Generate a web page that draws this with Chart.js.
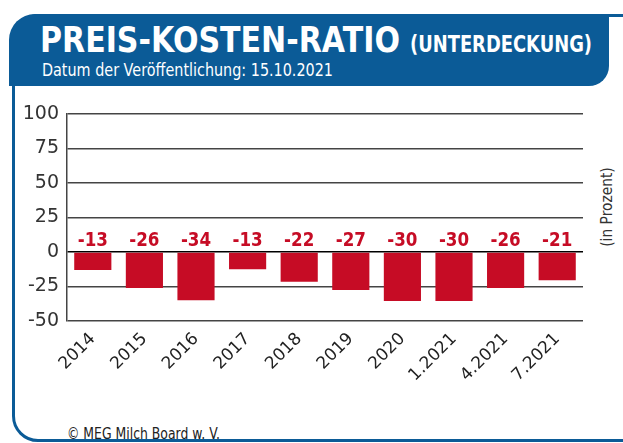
<!DOCTYPE html>
<html lang="de">
<head>
<meta charset="utf-8">
<script src="https://cdn.jsdelivr.net/npm/chart.js@4"></script>
<style>
  html, body { margin: 0; padding: 0; background: #fff; }
  body { width: 623px; height: 443px; position: relative; overflow: hidden;
         font-family: "DejaVu Sans", sans-serif; }
  #rahmen { position: absolute; left: 12px; top: 14px; width: 660px; height: 428px;
            border: 3px solid #0b5b97; border-radius: 26px; box-sizing: border-box; }
  #kopf { position: absolute; left: 9px; top: 14px; width: 600px; height: 72px;
          background: #0b5b97; border-radius: 26px 0 20px 0; }
  .txt { position: absolute; white-space: nowrap; transform-origin: 0 0; }
  #titel { left: 40px; top: 19px; color: #fff; font-weight: bold; font-size: 36px; }
  #zusatz { left: 410px; top: 31px; color: #fff; font-weight: bold; font-size: 23px; }
  #datum { left: 42px; top: 60px; color: #fff; font-size: 17px; }
  #einheit { position: absolute; left: 607px; top: 207px; color: #333; font-size: 15px;
             transform: translate(-50%, -50%) rotate(-90deg) scaleX(0.92); white-space: nowrap; }
  #quelle { left: 67px; top: 425px; color: #222; font-size: 15px; }
  canvas { position: absolute; left: 0; top: 0; }
</style>
</head>
<body>
<div id="rahmen"></div>
<div id="kopf"></div>
<div class="txt" id="titel" data-breite="360">PREIS-KOSTEN-RATIO</div>
<div class="txt" id="zusatz" data-breite="182">(UNTERDECKUNG)</div>
<div class="txt" id="datum" data-breite="291">Datum der Veröffentlichung: 15.10.2021</div>
<div id="einheit">(in Prozent)</div>
<div class="txt" id="quelle" data-breite="153">© MEG Milch Board w. V.</div>
<canvas id="grafico" width="623" height="443"></canvas>
<script>
const schrift = '"DejaVu Sans", sans-serif';

const kategorien = ["2014", "2015", "2016", "2017", "2018", "2019", "2020", "1.2021", "4.2021", "7.2021"];
// Balkenhöhen
const werte = [-13, -26, -35, -12.5, -21.5, -27.5, -35.5, -35.5, -26, -20.5];
// Beschriftungen über der Nulllinie
const beschriftung = ["-13", "-26", "-34", "-13", "-22", "-27", "-30", "-30", "-26", "-21"];
const yTicks = [100, 75, 50, 25, 0, -25, -50];

const rot = "#c60c25";

// Texte auf die Breite im Original stauchen (keine schmale Schrift installiert)
document.querySelectorAll(".txt[data-breite]").forEach(el => {
  const soll = parseFloat(el.dataset.breite);
  const ist = el.getBoundingClientRect().width;
  el.style.transform = `scaleX(${soll / ist})`;
});

const wertePlugin = {
  id: "werte",
  afterDatasetsDraw(chart) {
    const ctx = chart.ctx;
    const y0 = chart.scales.y.getPixelForValue(0);
    ctx.save();
    ctx.fillStyle = rot;
    ctx.font = "bold 19px " + schrift;
    ctx.textAlign = "center";
    ctx.textBaseline = "alphabetic";
    chart.getDatasetMeta(0).data.forEach((bar, i) => {
      ctx.save();
      ctx.translate(bar.x, y0 - 6);
      ctx.scale(0.88, 1);
      ctx.fillText(beschriftung[i], 0, 0);
      ctx.restore();
    });
    ctx.restore();
  }
};

new Chart(document.getElementById("grafico").getContext("2d"), {
  type: "bar",
  data: {
    labels: kategorien,
    datasets: [{
      data: werte,
      backgroundColor: rot,
      borderWidth: 0,
      categoryPercentage: 0.72,
      barPercentage: 1
    }]
  },
  options: {
    responsive: false,
    animation: false,
    events: [],
    layout: { padding: { top: 114, right: 40, left: 0, bottom: 0 } },
    plugins: { legend: { display: false }, tooltip: { enabled: false } },
    scales: {
      y: {
        min: -50,
        max: 100,
        afterFit: s => { s.width = 67; },
        afterBuildTicks: s => { s.ticks = yTicks.map(v => ({ value: v })); },
        ticks: { color: "#333", font: { family: schrift, size: 19 }, padding: 8 },
        grid: {
          drawTicks: false,
          lineWidth: 1.5,
          color: c => (c.tick && c.tick.value === 0 ? "#000" : "#444")
        },
        border: { display: true, color: "#444", width: 1.5 }
      },
      x: {
        afterFit: s => { s.height = 122; },
        ticks: { color: "#222", font: { family: schrift, size: 17 }, minRotation: 45, maxRotation: 45, padding: 0 },
        grid: { display: false },
        border: { display: false }
      }
    }
  },
  plugins: [wertePlugin]
});
</script>
</body>
</html>
